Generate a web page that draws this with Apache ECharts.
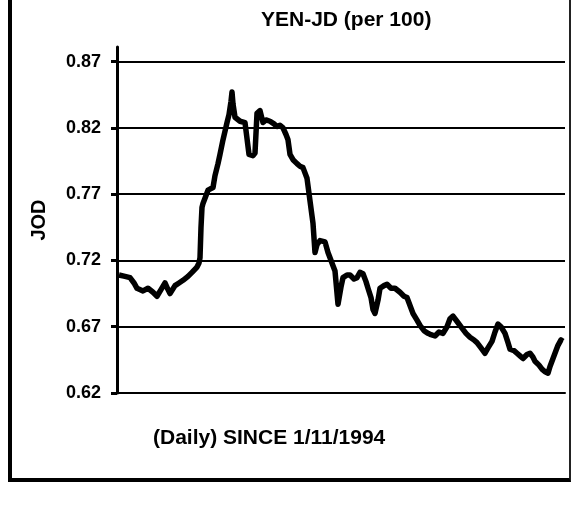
<!DOCTYPE html>
<html>
<head>
<meta charset="utf-8">
<title>YEN-JD</title>
<script src="https://cdn.jsdelivr.net/npm/echarts@6.0.0/dist/echarts.min.js"></script>
<style>
    html, body { margin: 0; padding: 0; background: #fff; }
    #wrap { position: relative; width: 571px; height: 518px; overflow: hidden; }
    #main { position: absolute; left: 0; top: 0; width: 571px; height: 518px; }
    /* outer frame of the scanned box (top edge is cut off) */
    #frame {
        position: absolute; left: 8px; top: -4px; width: 563px; height: 486px;
        box-sizing: border-box;
        border-left: 4px solid #000; border-bottom: 4px solid #000; border-right: 2px solid #222;
        pointer-events: none;
    }
</style>
</head>
<body>
<div id="wrap">
    <div id="main"></div>
    <div id="frame"></div>
</div>
<script>
    // trading day (offset from start) and rate
    const days = [2, 8, 13, 17, 20, 26, 31, 36, 40, 44, 48, 51, 53, 58, 62, 66, 71, 75, 80, 82,
        83, 84, 85, 86, 91, 96, 98, 101, 103, 106, 110, 112, 114, 115, 116, 118, 123, 128, 130, 132,
        136, 138, 140, 143, 146, 149, 153, 157, 160, 163, 166, 169, 171, 173, 176, 180, 183, 186, 188, 190,
        193, 196, 198, 200, 203, 208, 211, 213, 216, 218, 221, 224, 226, 230, 233, 237, 240, 243, 246, 249,
        251, 254, 256, 258, 261, 263, 267, 270, 274, 278, 283, 287, 290, 293, 296, 300, 303, 307, 311, 314,
        318, 322, 326, 330, 333, 336, 338, 341, 345, 349, 353, 357, 360, 364, 368, 371, 375, 378, 381, 384,
        388, 391, 393, 397, 400, 403, 406, 410, 413, 416, 418, 422, 425, 428, 431, 433, 436, 439, 441, 444, 446];
    const jod = [0.709, 0.708, 0.707, 0.703, 0.699, 0.697, 0.699, 0.696, 0.693, 0.698, 0.703, 0.698, 0.695, 0.701, 0.703, 0.705, 0.708, 0.711, 0.715, 0.718,
        0.722, 0.745, 0.760, 0.763, 0.773, 0.775, 0.784, 0.793, 0.800, 0.811, 0.824, 0.830, 0.840, 0.847, 0.838, 0.828, 0.825, 0.824, 0.812, 0.800,
        0.799, 0.801, 0.831, 0.833, 0.824, 0.826, 0.825, 0.823, 0.821, 0.822, 0.820, 0.815, 0.811, 0.800, 0.796, 0.793, 0.791, 0.790, 0.789, 0.782,
        0.765, 0.748, 0.726, 0.732, 0.735, 0.734, 0.726, 0.722, 0.716, 0.712, 0.687, 0.700, 0.707, 0.709, 0.709, 0.706, 0.707, 0.711, 0.710, 0.704,
        0.699, 0.692, 0.683, 0.680, 0.690, 0.699, 0.701, 0.702, 0.699, 0.699, 0.696, 0.693, 0.692, 0.686, 0.680, 0.675, 0.671, 0.667, 0.665, 0.664,
        0.663, 0.666, 0.665, 0.670, 0.676, 0.678, 0.677, 0.673, 0.669, 0.665, 0.662, 0.660, 0.658, 0.654, 0.650, 0.654, 0.659, 0.666, 0.672, 0.670,
        0.665, 0.658, 0.653, 0.652, 0.650, 0.648, 0.646, 0.649, 0.650, 0.647, 0.644, 0.641, 0.638, 0.636, 0.635, 0.640, 0.646, 0.652, 0.656, 0.660, 0.659];

    const yTicks = [0.62, 0.67, 0.72, 0.77, 0.82, 0.87];

    const titleText = 'YEN-JD (per 100)';
    const footText = '(Daily) SINCE 1/11/1994';
    const yName = 'JOD';

    var myChart = echarts.init(document.getElementById('main'));

    let points = days.map((d, i) => [d, jod[i]]);

    let font = '"Liberation Sans", Arial, sans-serif';

    let option = {
        animation: false,
        backgroundColor: '#fff',
        title: [
            {
                text: titleText,
                left: 256,
                top: 5,
                textStyle: { fontFamily: font, fontWeight: 'bold', fontSize: 21, color: '#000' }
            },
            {
                text: footText,
                left: 148,
                top: 423,
                textStyle: { fontFamily: font, fontWeight: 'bold', fontSize: 21, color: '#000' }
            }
        ],
        grid: {
            left: 117,
            right: 6,
            top: 47,
            bottom: 125
        },
        xAxis: {
            type: 'value',
            min: 0,
            max: 448,
            // bottom line doubles as the 0.62 grid line
            axisLine: { show: true, lineStyle: { color: '#000', width: 2 } },
            axisTick: { show: false },
            axisLabel: { show: false },
            splitLine: { show: false }
        },
        yAxis: {
            type: 'value',
            min: 0.62,
            max: 0.881,
            interval: 0.05,
            name: yName,
            nameLocation: 'middle',
            nameGap: 68,
            nameRotate: 90,
            nameTextStyle: { fontFamily: font, fontWeight: 'bold', fontSize: 20, color: '#000' },
            axisLine: { show: true, lineStyle: { color: '#000', width: 3 } },
            axisTick: {
                show: true,
                length: 6,
                customValues: yTicks,
                lineStyle: { color: '#000', width: 3 }
            },
            axisLabel: {
                customValues: yTicks,
                margin: 16,
                fontFamily: font,
                fontWeight: 'bold',
                fontSize: 18,
                color: '#000',
                formatter: (v) => v.toFixed(2)
            },
            splitLine: {
                show: true,
                lineStyle: { color: '#000', width: 2 }
            }
        },
        series: [
            {
                type: 'line',
                data: points,
                showSymbol: false,
                symbol: 'none',
                lineStyle: { color: '#000', width: 5.5, join: 'round' },
                z: 3
            }
        ]
    };
    myChart.setOption(option);
</script>
</body>
</html>
